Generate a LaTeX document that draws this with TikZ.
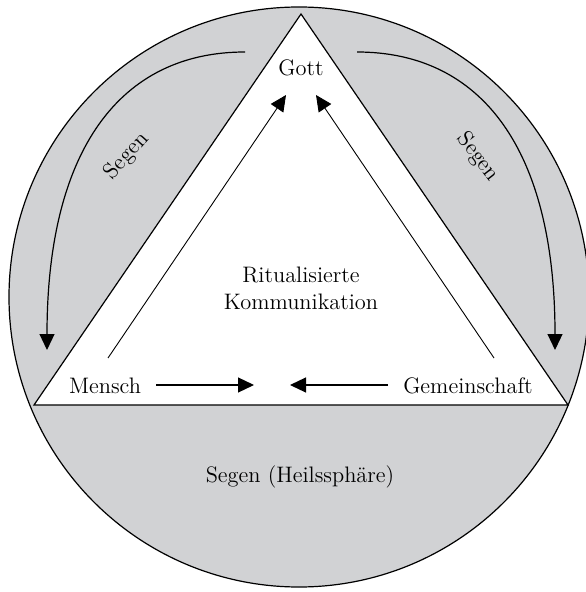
\documentclass[tikz,border=0pt]{standalone}
\usetikzlibrary{arrows.meta}
\definecolor{sphere}{RGB}{209,210,212}
\begin{document}
\begin{tikzpicture}[x=0.5pt,y=-0.5pt,
  lbl/.style={font=\fontsize{11.2}{13.5}\selectfont, inner sep=0pt, align=center},
  tip/.style={-{Triangle[length=8pt,width=7.5pt]}},
  thinline/.style={line width=0.45pt},
  thickline/.style={line width=0.6pt}]
\useasboundingbox (0,0) rectangle (585,592);
% circle (Heilssphaere)
\fill[sphere] (299,297) circle (290);
\draw[thickline] (299,297) circle (290);
% triangle
\coordinate (apex) at (301,14);
\coordinate (bl) at (34,405);
\coordinate (br) at (568,405);
\filldraw[fill=white, thickline] (apex) -- (bl) -- (br) -- cycle;
% labels
\node[lbl] (gott) at (301,68) {Gott};
\node[lbl] (ritual) at (301,288) {Ritualisierte\\Kommunikation};
\node[lbl] (mensch) at (105,386) {Mensch};
\node[lbl] (gemein) at (468,386) {Gemeinschaft};
\node[lbl] (heil) at (300,477) {Segen (Heilssphäre)};
\node[lbl, rotate=48] (segl) at (127,156) {Segen};
\node[lbl, rotate=-52] (segr) at (478,157) {Segen};
% connector end points
\coordinate (mup0) at (108,358);
\coordinate (mup1) at (286,95);
\coordinate (gup0) at (494,358);
\coordinate (gup1) at (316,95);
\coordinate (mr0) at (156,385);
\coordinate (mr1) at (254,385);
\coordinate (gl0) at (388,385);
\coordinate (gl1) at (290,385);
\coordinate (sl0) at (245,52);
\coordinate (sl1) at (47,350);
\coordinate (sr0) at (357,52);
\coordinate (sr1) at (555,350);
% arrows
\draw[thinline, tip] (mup0) -- (mup1);
\draw[thinline, tip] (gup0) -- (gup1);
\draw[thickline, tip] (mr0) -- (mr1);
\draw[thickline, tip] (gl0) -- (gl1);
\draw[thickline, tip] (sl0) .. controls (120,52) and (47,150) .. (sl1);
\draw[thickline, tip] (sr0) .. controls (482,52) and (555,150) .. (sr1);
\end{tikzpicture}
\end{document}
